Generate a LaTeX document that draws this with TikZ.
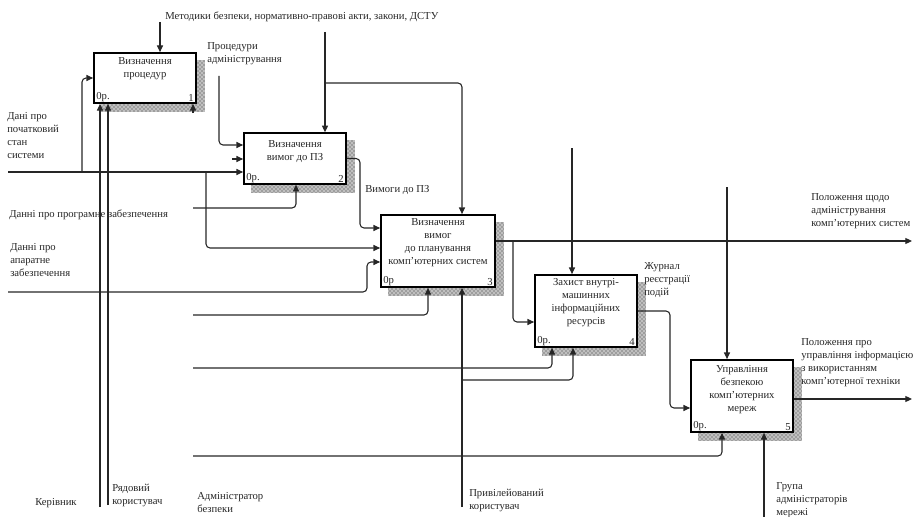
\documentclass[tikz,border=0pt]{standalone}
\usepackage{fontspec}
\setmainfont{Liberation Serif}
\usetikzlibrary{arrows.meta,patterns,backgrounds}

\begin{document}
\begin{tikzpicture}[x=0.75pt,y=-0.75pt,font=\fontsize{8}{9.75}\selectfont,text=black!85]
\tikzstyle{every node}+=[inner sep=0pt]
\tikzstyle{fnbox}=[draw=black,line width=1.3pt,fill=white,minimum width=76.5pt]
\tikzstyle{boxtext}=[anchor=north,align=center]
\tikzstyle{lbl}=[anchor=north west,align=left]
\tikzstyle{arr}=[draw=black!85,line width=0.8pt,rounded corners=3pt,-{Triangle[length=5pt,width=4.5pt]}]
\tikzstyle{shadowfill}=[fill=black!25,postaction={pattern=crosshatch dots,pattern color=black!80}]
\useasboundingbox (0,0) rectangle (913,517);
\node [fnbox,minimum height=37.5pt] (b1) at (145,78) {};
\node [fnbox,minimum height=38pt] (b2) at (295,158.5) {};
\node [fnbox,minimum height=54pt,minimum width=85.5pt] (b3) at (438,251) {};
\node [fnbox,minimum height=54pt] (b4) at (586,311) {};
\node [fnbox,minimum height=54pt] (b5) at (742,396) {};
\begin{scope}[on background layer]
\foreach \b in {b1,b2,b3,b4,b5}
  \fill [shadowfill] ([shift={(8,8)}]\b.north west) rectangle ([shift={(8,8)}]\b.south east);
\end{scope}
\node [boxtext] (b1t) at (145,57) {Визначення\\процедур};
\node [boxtext] (b2t) at (295,140) {Визначення\\вимог до ПЗ};
\node [boxtext] (b3t) at (438,218) {Визначення\\вимог\\до планування\\комп'ютерних систем};
\node [boxtext] (b4t) at (586,278) {Захист внутрі-\\машинних\\інформаційних\\ресурсів};
\node [boxtext] (b5t) at (742,365) {Управління\\безпекою\\комп'ютерних\\мереж};
\node [anchor=south west] (b1o) at ([shift={(3,-2)}]b1.south west) {0р.};
\node [anchor=south east] (b1n) at ([shift={(-3,-2)}]b1.south east) {1};
\node [anchor=south west] (b2o) at ([shift={(3,-2)}]b2.south west) {0р.};
\node [anchor=south east] (b2n) at ([shift={(-3,-2)}]b2.south east) {2};
\node [anchor=south west] (b3o) at ([shift={(3,-2)}]b3.south west) {0р};
\node [anchor=south east] (b3n) at ([shift={(-3,-2)}]b3.south east) {3};
\node [anchor=south west] (b4o) at ([shift={(3,-2)}]b4.south west) {0р.};
\node [anchor=south east] (b4n) at ([shift={(-3,-2)}]b4.south east) {4};
\node [anchor=south west] (b5o) at ([shift={(3,-2)}]b5.south west) {0р.};
\node [anchor=south east] (b5n) at ([shift={(-3,-2)}]b5.south east) {5};
\node [anchor=west] (tmet) at (165,17) {Методики безпеки, нормативно-правові акти, закони, ДСТУ};
\node [lbl] (tproc) at (207,42) {Процедури\\адміністрування};
\node [lbl] (tstan) at (7,112) {Дані про\\початковий\\стан\\системи};
\node [anchor=west] (tprog) at (9,215) {Данні про програмне забезпечення};
\node [lbl] (tapar) at (10,243) {Данні про\\апаратне\\забезпечення};
\node [anchor=west] (tvym) at (365,190) {Вимоги до ПЗ};
\node [lbl] (tpol1) at (811,193) {Положення щодо\\адміністрування\\комп'ютерних систем};
\node [lbl] (tzhur) at (644,262) {Журнал\\реєстрації\\подій};
\node [lbl] (tpol2) at (801,338) {Положення про\\управління інформацією\\з використанням\\комп'ютерної техніки};
\node [anchor=west] (tker) at (35,503) {Керівник};
\node [lbl] (tryad) at (112,484) {Рядовий\\користувач};
\node [lbl] (tadm) at (197,492) {Адміністратор\\безпеки};
\node [lbl] (tpryv) at (469,489) {Привілейований\\користувач};
\node [lbl] (tgrup) at (776,482) {Група\\адміністраторів\\мережі};
\coordinate (c1) at (160,22);
\coordinate (c2) at (325,32);
\coordinate (j1) at (325,83);
\coordinate (k1) at (462,83);
\coordinate (p1) at (219,76);
\coordinate (in21) at (219,145);
\coordinate (s2) at (232,159);
\coordinate (d0) at (8,172);
\coordinate (j2) at (82,172);
\coordinate (j3) at (206,172);
\coordinate (in32) at (206,248);
\coordinate (m21) at (193,208);
\coordinate (k21) at (296,208);
\coordinate (o2) at (360,228);
\coordinate (h0) at (8,292);
\coordinate (h1) at (367,292);
\coordinate (h2) at (367,262);
\coordinate (a0) at (193,315);
\coordinate (k31) at (428,315);
\coordinate (pv) at (462,507);
\coordinate (o3) at (912,241);
\coordinate (j4) at (513,241);
\coordinate (in41) at (513,322);
\coordinate (c4) at (572,148);
\coordinate (a1) at (193,368);
\coordinate (k41) at (552,368);
\coordinate (j5) at (462,380);
\coordinate (k42) at (573,380);
\coordinate (o4) at (670,408);
\coordinate (c5) at (727,187);
\coordinate (a2) at (193,456);
\coordinate (k51) at (722,456);
\coordinate (g0) at (764,517);
\coordinate (o5) at (912,399);
\coordinate (r1) at (100,507);
\coordinate (r2) at (108,505);
\coordinate (s1) at (193,113);
\draw [arr] (c1) -- (c1 |- b1.north);
\draw [arr] (c2) -- (c2 |- b2.north);
\draw [arr] (j1) -- (k1) -- (k1 |- b3.north);
\draw [arr] (p1) -- (in21) -- (in21 -| b2.west);
\draw [arr] (s2) -- (s2 -| b2.west);
\draw [arr] (d0) -- (d0 -| b2.west);
\draw [arr] (j2) |- (b1.west);
\draw [arr] (j3) -- (in32) -- (in32 -| b3.west);
\draw [arr] (m21) -- (k21) -- (k21 |- b2.south);
\draw [arr] (b2.east) -| (o2) -- (o2 -| b3.west);
\draw [arr] (h0) -- (h1) -- (h2) -- (h2 -| b3.west);
\draw [arr] (a0) -- (k31) -- (k31 |- b3.south);
\draw [arr] (pv) -- (pv |- b3.south);
\draw [arr] (o3 -| b3.east) -- (o3);
\draw [arr] (j4) -- (in41) -- (in41 -| b4.west);
\draw [arr] (c4) -- (c4 |- b4.north);
\draw [arr] (a1) -- (k41) -- (k41 |- b4.south);
\draw [arr] (j5) -- (k42) -- (k42 |- b4.south);
\draw [arr] (b4.east) -| (o4) -- (o4 -| b5.west);
\draw [arr] (c5) -- (c5 |- b5.north);
\draw [arr] (a2) -- (k51) -- (k51 |- b5.south);
\draw [arr] (g0) -- (g0 |- b5.south);
\draw [arr] (o5 -| b5.east) -- (o5);
\draw [arr] (r1) -- (r1 |- b1.south);
\draw [arr] (r2) -- (r2 |- b1.south);
\draw [arr] (s1) -- (s1 |- b1.south);
\end{tikzpicture}
\end{document}
